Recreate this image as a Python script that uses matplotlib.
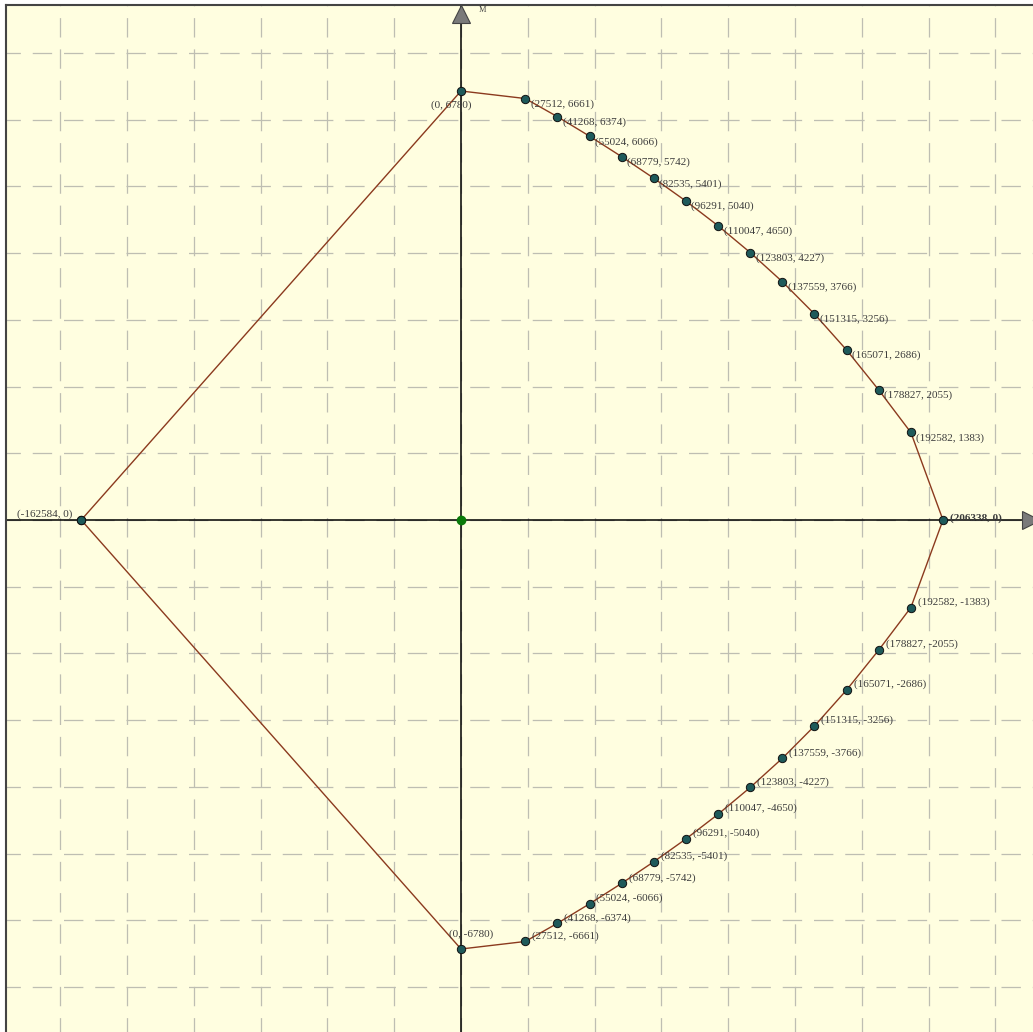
import numpy as np
import matplotlib
matplotlib.use('Agg')
import matplotlib.pyplot as plt
from matplotlib.ticker import MultipleLocator

#----------------------------------------------------------#
# Interaction diagram data (N, M).

N_pos = [0, 27512, 41268, 55024, 68779, 82535, 96291, 110047,
         123803, 137559, 151315, 165071, 178827, 192582, 206338]
M_pos = [6780, 6661, 6374, 6066, 5742, 5401, 5040, 4650,
         4227, 3766, 3256, 2686, 2055, 1383, 0]
N_min = -162584     # pure tension point

# Closed polygon: tension point -> upper branch -> lower branch -> back
N_all = [N_min] + N_pos + N_pos[-2::-1] + [N_min]
M_all = [0] + M_pos + [-m for m in M_pos[-2::-1]] + [0]

#----------------------------------------------------------#
# Plotting

fig = plt.figure(figsize=(10.33, 10.32), dpi=100)
fig.patch.set_facecolor('white')
ax = fig.add_axes([6/1033, 0, 1027/1033, 1027/1032])
ax.set_facecolor('#fffee0')

# scale: 482 px for 206338 in N, 429 px for 6780 in M
sx = 482/206338
sy = 429/6780
ax.set_xlim((6 - 461)/sx, (1033 - 461)/sx)
ax.set_ylim((520 - 1032)/sy, (520 - 5)/sy)

ax.xaxis.set_major_locator(MultipleLocator(66.8/sx))
ax.yaxis.set_major_locator(MultipleLocator(66.7/sy))
ax.tick_params(length=0, labelleft=False, labelbottom=False)
ax.grid(True, color='#bebeb2', lw=0.9, linestyle=(4, (15.5, 9.5)), zorder=0)
ax.set_axisbelow(True)

for s in ['right', 'bottom']:
    ax.spines[s].set_visible(False)
for s in ['left', 'top']:
    ax.spines[s].set_color('#444444')
    ax.spines[s].set_linewidth(1.5)

# axes of the diagram
ax.axhline(0, color='black', lw=1.1, zorder=2)
ax.axvline(0, color='black', lw=1.1, zorder=2)
ax.plot([0], [0.9908], marker='^', ms=13, color='#7a7a7a', mec='#444444',
        mew=0.8, transform=ax.get_xaxis_transform(), clip_on=False, zorder=3)
ax.plot([0.998], [0], marker='>', ms=13, color='#7a7a7a', mec='#444444',
        mew=0.8, transform=ax.get_yaxis_transform(), clip_on=False, zorder=3)
ax.annotate('M', xy=(0, 0.9908), xycoords=ax.get_xaxis_transform(),
            xytext=(13, 3), textcoords='offset points', fontsize=6,
            family='Liberation Serif', color='#444444', va='center')

# origin
ax.plot([0], [0], 'o', ms=6, color='#0a7a0a', zorder=5)

# diagram
ax.plot(N_all, M_all, '-', color='#8b3a1e', lw=1.0, zorder=3)
ax.plot(N_all, M_all, 'o', ms=6, color='#1e5a5a', mec='#111111',
        mew=0.7, zorder=4)

# labels
fnt = dict(fontsize=8, family='Liberation Serif', color='#3c3c3c')
for n, m in zip(N_pos, M_pos):
    if n == 0:
        ax.annotate(f'({n}, {m})', (n, m), xytext=(-7, -10),
                    textcoords='offset points', ha='center', va='center', **fnt)
        ax.annotate(f'({n}, {-m})', (n, -m), xytext=(7, 11),
                    textcoords='offset points', ha='center', va='center', **fnt)
    elif m == 0:
        ax.annotate(f'({n}, {m})', (n, m), xytext=(5, 1),
                    textcoords='offset points', ha='left', va='center',
                    fontweight='bold', **fnt)
    else:
        ax.annotate(f'({n}, {m})', (n, m), xytext=(4, -4),
                    textcoords='offset points', ha='left', va='center', **fnt)
        ax.annotate(f'({n}, {-m})', (n, -m), xytext=(5, 4),
                    textcoords='offset points', ha='left', va='center', **fnt)
ax.annotate(f'({N_min}, 0)', (N_min, 0), xytext=(-6, 4),
            textcoords='offset points', ha='right', va='center', **fnt)

fig.savefig('out.png', dpi=100)
